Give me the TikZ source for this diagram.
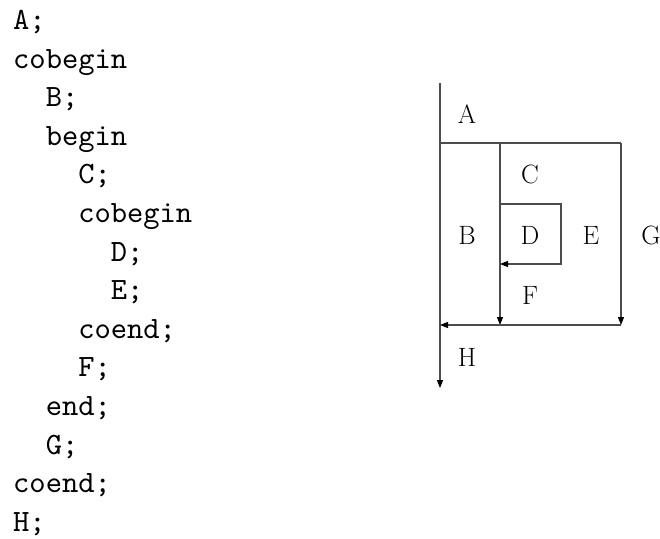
\documentclass[tikz,border=0pt]{standalone}
\usepackage{fontspec}
\usetikzlibrary{arrows.meta}
% the 10pt design of the typewriter face, scaled up, for the listing
\newfontfamily\codefont{lmmono10-regular}[Extension=.otf]
\begin{document}
\begin{tikzpicture}[x=1pt,y=-1pt,
  code/.style={anchor=base west,inner sep=0pt,font=\fontsize{31}{38}\codefont},
  lbl/.style={inner sep=0pt,font=\fontsize{26.5}{30}\selectfont},
  flow/.style={line width=1.1pt,draw=black!70},
  tip/.style={flow,-{Triangle[length=8pt,width=6pt,color=black]}}]
\useasboundingbox (0,0) rectangle (660,538);

% program listing
\foreach \t [count=\i from 0] in {A;,cobegin,\ \ B;,\ \ begin,\ \ \ \ C;,\ \ \ \ cobegin,
  \ \ \ \ \ \ D;,\ \ \ \ \ \ E;,\ \ \ \ coend;,\ \ \ \ F;,\ \ end;,\ \ G;,coend;,H;}
  \node[code] (l\i) at (13,{29.5+38.6*\i}) {\t};

% corner points of the precedence graph
\coordinate (top) at (440,83);
\coordinate (tl) at (440,143);
\coordinate (tm) at (500,143);
\coordinate (tr) at (621,143);
\coordinate (dtl) at (500,204);
\coordinate (dtr) at (561,204);
\coordinate (dbr) at (561,264);
\coordinate (dbl) at (500,264);
\coordinate (bm) at (500,325);
\coordinate (br) at (621,325);
\coordinate (bl) at (440,325);
\coordinate (bottom) at (440,388);

% flow lines
\draw[tip] (top) -- (bottom);
\draw[flow] (tl) -- (tr);
\draw[tip] (tm) -- (bm);
\draw[tip] (tr) -- (br);
\draw[tip] (dtl) -- (dtr) -- (dbr) -- (dbl);
\draw[tip] (br) -- (bl);

% statement labels
\node[lbl] (A) at (467,114) {A};
\node[lbl] (C) at (530,174) {C};
\node[lbl] (B) at (467,235) {B};
\node[lbl] (D) at (530,235) {D};
\node[lbl] (E) at (591,235) {E};
\node[lbl] (G) at (651,235) {G};
\node[lbl] (F) at (530,295) {F};
\node[lbl] (H) at (467,357) {H};
\end{tikzpicture}
\end{document}
